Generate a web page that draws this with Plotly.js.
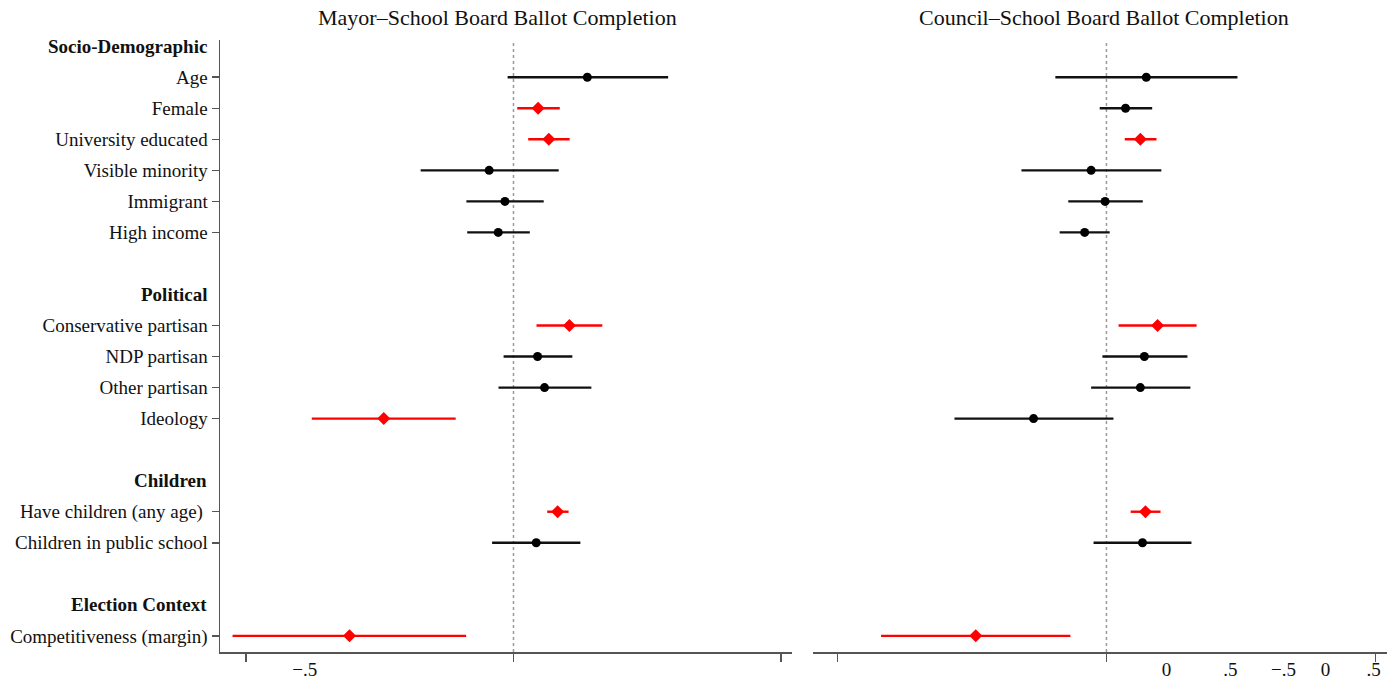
<!DOCTYPE html>
<html>
<head>
<meta charset="utf-8">
<script src="https://cdn.plot.ly/plotly-3.0.1.min.js"></script>
<style>html,body{margin:0;padding:0;background:#fff;}#chart{width:1387px;height:681px;}</style>
</head>
<body>
<div id="chart"></div>
<script>
// Row labels (row index 0 at top)
const rowLabels = [
  "Socio-Demographic", "Age", "Female", "University educated", "Visible minority", "Immigrant", "High income", "",
  "Political", "Conservative partisan", "NDP partisan", "Other partisan", "Ideology", "",
  "Children", "Have children (any age)\u00a0", "Children in public school", "",
  "Election Context", "Competitiveness (margin)"
];
const headerRows = [0, 8, 14, 18];
const itemRows = [1, 2, 3, 4, 5, 6, 9, 10, 11, 12, 15, 16, 19];

// Mayor–School Board panel
const mayorEst = [0.276, 0.092, 0.132, -0.091, -0.032, -0.057, 0.209, 0.090, 0.116, -0.485, 0.165, 0.085, -0.613];
const mayorLo  = [-0.022, 0.014, 0.055, -0.347, -0.176, -0.173, 0.086, -0.037, -0.056, -0.754, 0.126, -0.080, -1.050];
const mayorHi  = [0.578, 0.173, 0.210, 0.169, 0.113, 0.061, 0.332, 0.220, 0.291, -0.216, 0.206, 0.250, -0.177];
const mayorSig = [0, 1, 1, 0, 0, 0, 1, 0, 0, 1, 1, 0, 1];

// Council–School Board panel
const councilEst = [0.148, 0.071, 0.126, -0.057, -0.005, -0.081, 0.190, 0.141, 0.126, -0.271, 0.145, 0.134, -0.486];
const councilLo  = [-0.190, -0.025, 0.068, -0.316, -0.142, -0.174, 0.045, -0.015, -0.057, -0.565, 0.090, -0.048, -0.838];
const councilHi  = [0.487, 0.170, 0.186, 0.204, 0.135, 0.012, 0.335, 0.301, 0.312, 0.026, 0.201, 0.316, -0.134];
const councilSig = [0, 0, 1, 0, 0, 0, 1, 0, 0, 0, 1, 0, 1];

// Axis tick marks and (misplaced) tick labels as in the original
const tickMarks = [-1, 0, 1];
const mayorTickPos = [-0.78];
const mayorTickText = ["\u2212.5"];
const councilTickPos = [0.223, 0.461, 0.658, 0.814, 0.993];
const councilTickText = ["0", ".5", "\u2212.5", "0", ".5"];

const titles = ["Mayor\u2013School Board Ballot Completion", "Council\u2013School Board Ballot Completion"];

const FONT = "Liberation Serif, Times New Roman, serif";
const RED = "#ff0000";

function buildTraces(est, lo, hi, sig, xa, ya) {
  const out = [];
  [0, 1].forEach(s => {
    const idx = est.map((_, i) => i).filter(i => sig[i] === s);
    out.push({
      type: "scatter", mode: "markers", xaxis: xa, yaxis: ya,
      x: idx.map(i => est[i]),
      y: idx.map(i => itemRows[i]),
      error_x: {
        type: "data", symmetric: false,
        array: idx.map(i => hi[i] - est[i]),
        arrayminus: idx.map(i => est[i] - lo[i]),
        color: s ? RED : "#111", thickness: 2.4, width: 0
      },
      marker: s ? {symbol: "diamond", size: 10, color: RED} : {symbol: "circle", size: 9, color: "#000"},
      hoverinfo: "skip", showlegend: false
    });
  });
  return out;
}

const traces = [
  ...buildTraces(mayorEst, mayorLo, mayorHi, mayorSig, "x", "y"),
  ...buildTraces(councilEst, councilLo, councilHi, councilSig, "x2", "y2")
];

const W = 1387;
const yRange = [19.52, -0.2];
const axisColor = "#555";

const xCommon = {
  showgrid: false, zeroline: false, showline: true, linecolor: axisColor, linewidth: 1.5,
  tickmode: "array", ticks: "", ticklen: 0,
  tickfont: {family: FONT, size: 19, color: "#111"},
  minor: {tickmode: "array", tickvals: tickMarks, ticks: "outside", ticklen: 8, tickwidth: 1.5, tickcolor: axisColor, showgrid: false},
  fixedrange: true
};

const layout = {
  width: 1387, height: 681,
  margin: {l: 0, r: 0, t: 40, b: 29},
  paper_bgcolor: "#fff", plot_bgcolor: "#fff",
  font: {family: FONT, color: "#111"},
  showlegend: false,
  xaxis: Object.assign({}, xCommon, {domain: [220 / W, 792 / W], range: [-1.097, 1.041], anchor: "y",
    tickvals: mayorTickPos, ticktext: mayorTickText}),
  xaxis2: Object.assign({}, xCommon, {domain: [813 / W, 1], range: [-1.091, 1.043], anchor: "y2",
    tickvals: councilTickPos, ticktext: councilTickText}),
  yaxis: {
    domain: [0, 1], range: yRange, anchor: "x",
    showgrid: false, zeroline: false, showline: true, linecolor: axisColor, linewidth: 1.5,
    tickmode: "array", tickvals: itemRows, ticktext: itemRows.map(r => rowLabels[r]),
    ticks: "outside", ticklen: 7, tickwidth: 1.5, tickcolor: axisColor,
    tickfont: {family: FONT, size: 19, color: "#111"}, fixedrange: true
  },
  yaxis2: {
    domain: [0, 1], range: yRange, anchor: "x2",
    showgrid: false, zeroline: false, showline: false, showticklabels: false, ticks: "", fixedrange: true
  },
  shapes: [
    {type: "line", xref: "x", yref: "paper", x0: 0, x1: 0, y0: 0, y1: 1, line: {color: "#999", width: 1.5, dash: "dot"}, layer: "below"},
    {type: "line", xref: "x2", yref: "paper", x0: 0, x1: 0, y0: 0, y1: 1, line: {color: "#999", width: 1.5, dash: "dot"}, layer: "below"}
  ],
  annotations: [
    ...headerRows.map(r => ({
      xref: "paper", yref: "y", x: 209 / W, y: r, xanchor: "right", yanchor: "middle",
      text: "<b>" + rowLabels[r] + "</b>", showarrow: false,
      font: {family: FONT, size: 19, color: "#111"}
    })),
    {xref: "paper", yref: "paper", x: 497 / W, y: 1, yshift: 23, xanchor: "center", yanchor: "middle",
      text: titles[0], showarrow: false, font: {family: FONT, size: 22, color: "#111"}},
    {xref: "paper", yref: "paper", x: 1104 / W, y: 1, yshift: 23, xanchor: "center", yanchor: "middle",
      text: titles[1], showarrow: false, font: {family: FONT, size: 22, color: "#111"}}
  ]
};

Plotly.newPlot("chart", traces, layout, {displayModeBar: false, staticPlot: true});
</script>
</body>
</html>
